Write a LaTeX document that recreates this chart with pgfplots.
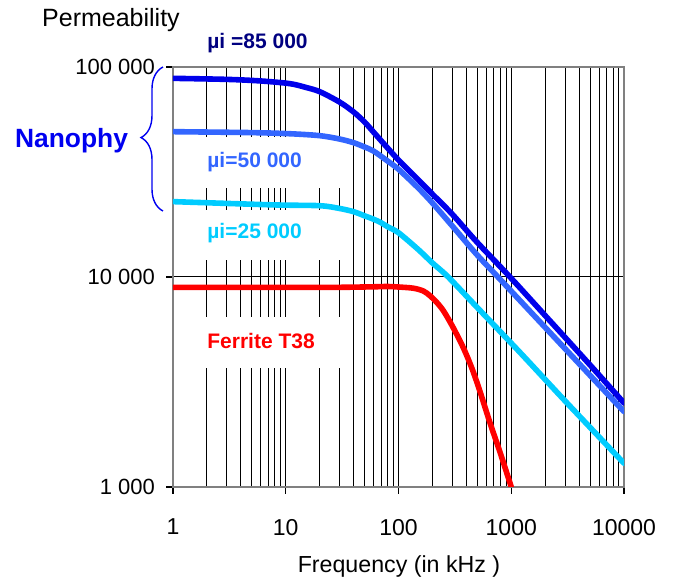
\documentclass[border=0pt]{standalone}
\usepackage{fontspec}
\setmainfont{Liberation Sans}
\usepackage{pgfplots}
\pgfplotsset{compat=1.18}
\usetikzlibrary{decorations.pathreplacing}
\definecolor{mu85}{RGB}{0,0,235}
\definecolor{mu85txt}{RGB}{0,0,128}
\definecolor{mu50}{RGB}{51,102,255}
\definecolor{mu25}{RGB}{0,204,255}
\definecolor{ferrite}{RGB}{255,0,0}
\definecolor{nano}{RGB}{0,0,240}

\begin{document}
\begin{tikzpicture}[x=1bp,y=1bp]
\useasboundingbox (-86.5,-47) rectangle (250.5,243.5);
\begin{axis}[
    at={(0,0)}, anchor=south west,
    scale only axis,
    width=225.5bp, height=210bp,
    xmode=log, ymode=log,
    xmin=1, xmax=10000, ymin=1000, ymax=100000,
    xtick={1,10,100,1000,10000},
    xticklabels={1,10,100,1000,10000},
    minor xtick={2,3,4,5,6,7,8,9,20,30,40,50,60,70,80,90,200,300,400,500,600,700,800,900,2000,3000,4000,5000,6000,7000,8000,9000},
    ytick={1000,10000,100000},
    yticklabels={1 000,10 000,100 000},
    minor ytick={},
    xmajorgrids, xminorgrids, ymajorgrids, yminorgrids=false,
    major grid style={black, line width=0.5bp},
    minor grid style={black, line width=0.5bp},
    axis line style={black!50, line width=1bp},
    tick align=outside, tick pos=left,
    major tick length=3.5bp, minor tick length=0pt,
    tick style={black, line width=0.6bp},
    xticklabel style={font=\fontsize{11.5bp}{13bp}\selectfont, yshift=-9bp},
    yticklabel style={font=\fontsize{11bp}{13bp}\selectfont, xshift=-2bp},
    every axis plot/.append style={line width=2.8bp, line join=round, line cap=round, smooth},
]
% white boxes behind the curve labels cut the grid lines
\fill[white] (rel axis cs:0.0155,0.712) rectangle (rel axis cs:0.386,0.833);
\fill[white] (rel axis cs:0.0155,0.540) rectangle (rel axis cs:0.386,0.660);
\fill[white] (rel axis cs:0.0155,0.283) rectangle (rel axis cs:0.386,0.405);

\addplot[mu85] coordinates {
    (1,88300)(3,87300)(6,85800)(10.9,83300)(15,80000)(20,76300)(30,68100)
    (40,61050)(50,54700)(60,49000)(80,41150)(100,36060)(150,29000)(200,24800)
    (300,19900)(494,14700)(975,10000)(2000,6550)(5000,3810)(10000,2512)};
\addplot[mu50] coordinates {
    (1,49200)(5,48700)(10.9,48100)(20,47100)(30,45400)(40,43600)(50,41600)
    (60,39800)(80,35670)(100,32580)(150,26500)(200,22500)(300,17500)
    (494,12800)(762,10000)(2000,5750)(5000,3400)(10000,2286)};
\addplot[mu25] coordinates {
    (1,22850)(7.7,22050)(20,21850)(30,21200)(40,20460)(50,19560)(60,18850)
    (70,18140)(80,17360)(100,16250)(150,13500)(200,11660)(276,10000)
    (500,7150)(1000,4840)(1466,3890)(3000,2570)(10000,1297)};
\addplot[ferrite] coordinates {
    (1,8930)(10,8930)(30,8930)(60,8980)(80,9010)(100,8960)(135,8845)
    (166,8577)(190,8147)(218,7578)(250,6910)(300,5845)(376,4600)(450,3650)
    (528,2850)(648,2020)(800,1450)(1000,1000)};
\end{axis}

\node[font=\fontsize{12.5bp}{15bp}\selectfont] at (-31,233.5) {Permeability};
\node[font=\fontsize{11.6bp}{14bp}\selectfont] at (113,-40) {Frequency (in kHz )};

\node[anchor=west, inner sep=0pt, text=mu85txt, font=\bfseries\fontsize{10.5bp}{12bp}\selectfont] at (17,222) {µi =85 000};
\node[anchor=west, inner sep=0pt, text=mu50, font=\bfseries\fontsize{10.5bp}{12bp}\selectfont] at (17,162.5) {µi=50 000};
\node[anchor=west, inner sep=0pt, text=mu25, font=\bfseries\fontsize{10.5bp}{12bp}\selectfont] at (17,127) {µi=25 000};
\node[anchor=west, inner sep=0pt, text=ferrite, font=\bfseries\fontsize{10.5bp}{12bp}\selectfont] at (17,73) {Ferrite T38};

\node[text=nano, font=\bfseries\fontsize{13.2bp}{15bp}\selectfont] at (-50.75,173) {Nanophy};
\draw[nano, line width=0.7bp, decorate, decoration={brace, amplitude=11bp, aspect=0.51}] (-5,138) -- (-5,210);
\end{tikzpicture}
\end{document}
